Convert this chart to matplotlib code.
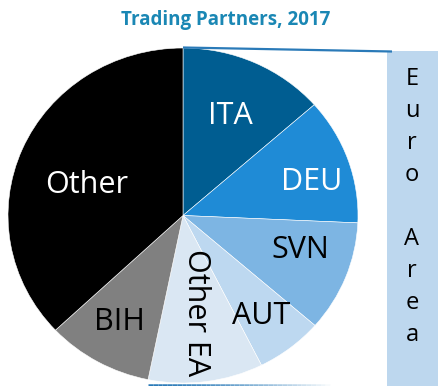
import numpy as np
import matplotlib.pyplot as plt
from matplotlib.collections import LineCollection
from matplotlib.colors import to_rgb

# Trading partner shares (%), drawn clockwise from 12 o'clock
partners = ["ITA", "DEU", "SVN", "AUT", "Other EA", "BIH", "Other"]
shares = [13.5, 12.2, 10.7, 6.2, 10.6, 9.8, 37.0]
colors = ["#005d91", "#1f8bd6", "#7db5e3", "#bdd8f0", "#dae7f3", "#808080", "#000000"]
text_colors = ["white", "white", "black", "black", "black", "black", "white"]
euro_area = "Euro Area"
title = "Trading Partners, 2017"

W, H = 438, 386
fig = plt.figure(figsize=(W / 100, H / 100), dpi=100)
fig.patch.set_facecolor("white")

# pie axes: box of the (slightly squashed) pie in pixels
px0, py0, pw, ph = 8, 3, 350, 335
ax = fig.add_axes([px0 / W, py0 / H, pw / W, ph / H])
wedges, _ = ax.pie(shares, colors=colors, startangle=90, counterclock=False,
                   wedgeprops=dict(linewidth=0.4, edgecolor="white"))
ax.set_aspect("auto")
ax.set_xlim(-1, 1)
ax.set_ylim(-1, 1)
ax.axis("off")

# label spots inside each wedge, in pie coordinates
label_pos = [(0.27, 0.594), (0.737, 0.2), (0.669, -0.206), (0.446, -0.6),
             (0.074, -0.582), (-0.366, -0.636), (-0.549, 0.182)]
for name, (x, y), c in zip(partners, label_pos, text_colors):
    rot = -90 if name == "Other EA" else 0
    ax.text(x, y, name, color=c, fontsize=22, family="Open Sans",
            ha="center", va="center", rotation=rot)

# overlay in pixel coordinates for the bracket and the euro area box
ov = fig.add_axes([0, 0, 1, 1], zorder=3)
ov.set_xlim(0, W)
ov.set_ylim(H, 0)
ov.axis("off")
ov.patch.set_alpha(0)

ov.add_patch(plt.Rectangle((387, 51), 60, 340, facecolor="#bdd7ee", edgecolor="none"))
ov.plot([183, 392], [47.5, 51.5], color="#2a7ab8", lw=1.6, solid_capstyle="butt")

# bottom bracket line fading out towards the box
xs = np.linspace(148, 335, 40)
segs = [[(xs[i], 385), (xs[i + 1], 385)] for i in range(len(xs) - 1)]
blue = np.array(to_rgb("#2a7ab8"))
fade = [tuple(blue + (1 - blue) * (i / (len(segs) - 1)) ** 1.5) for i in range(len(segs))]
ov.add_collection(LineCollection(segs, colors=fade, linewidths=1.8))

ov.text(412, 207, "\n".join(euro_area), fontsize=17,
        family="Open Sans", ha="center", va="center", linespacing=1.45)

fig.text(226 / W, 1 - 20 / H, title, color="#1a87b4", fontsize=13.5,
         fontweight="bold", family="Open Sans", ha="center", va="center")

fig.savefig("out.png", dpi=100)
